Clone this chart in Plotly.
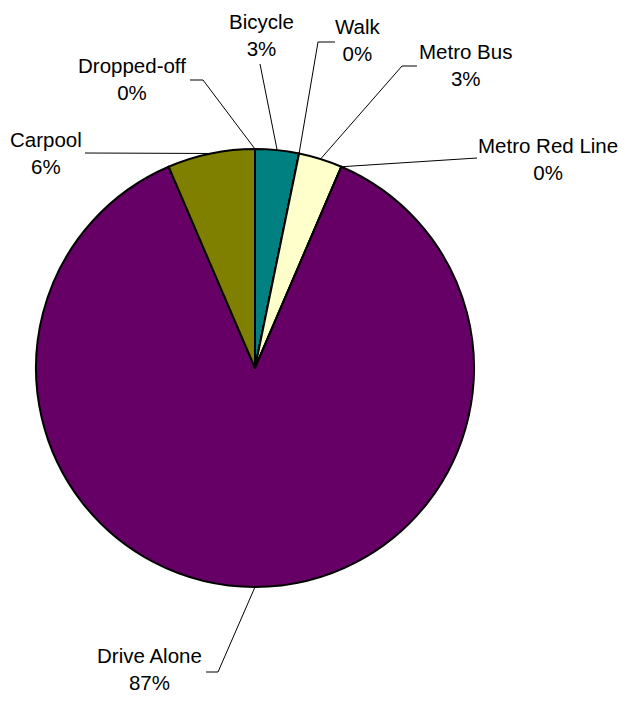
import math
import plotly.graph_objects as go

# commute mode counts
modes = ["Bicycle", "Walk", "Metro Bus", "Metro Red Line", "Drive Alone", "Carpool", "Dropped-off"]
counts = [1, 0, 1, 0, 27, 2, 0]
colors = ["#008080", "#FFFFCC", "#FFFFCC", "#660066", "#660066", "#808000", "#808000"]

# page body has an 8px margin, so the figure sits at (8, 8) in the window;
# keep the height inside the window so no scrollbar appears
OFF = 8
W, H = 626 - OFF, 704 - 2 * OFF
CX, CY, R = 255, 368, 219

# label layout in window pixels: text centre, elbow, tail end of leader
label_pos = {
    "Bicycle":        ((261, 35),  (260, 64),  (260, 64)),
    "Walk":           ((358, 40),  (318, 42),  (335, 42)),
    "Metro Bus":      ((465, 65),  (402, 66),  (417, 66)),
    "Metro Red Line": ((548, 159), (477, 158), (477, 158)),
    "Drive Alone":    ((149, 669), (218, 672), (206, 672)),
    "Carpool":        ((46, 153),  (85, 153),  (85, 153)),
    "Dropped-off":    ((132, 79),  (203, 80),  (190, 80)),
}


def px(x, y):
    return (x - OFF) / W, 1 - (y - OFF) / H


total = sum(counts)
dx0, dy1 = px(CX - R, CY - R)
dx1, dy0 = px(CX + R, CY + R)
fig = go.Figure(go.Pie(
    labels=modes,
    values=counts,
    sort=False,
    direction="clockwise",
    rotation=0,
    marker=dict(colors=colors, line=dict(color="black", width=2)),
    textinfo="none",
    hoverinfo="label+percent",
    showlegend=False,
    domain=dict(x=[dx0, dx1], y=[dy0, dy1]),
))

shapes = []
annotations = []
cum = 0
for name, v in zip(modes, counts):
    mid = (cum + v / 2) / total * 2 * math.pi
    cum += v
    ex, ey = CX + R * math.sin(mid), CY - R * math.cos(mid)
    (tx, ty), (bx, by), (lx, ly) = label_pos[name]
    x0, y0 = px(ex, ey)
    x1, y1 = px(bx, by)
    x2, y2 = px(lx, ly)
    shapes.append(dict(type="path", xref="paper", yref="paper",
                       path=f"M {x0},{y0} L {x1},{y1} L {x2},{y2}",
                       line=dict(color="black", width=1)))
    ax, ay = px(tx, ty)
    annotations.append(dict(
        x=ax, y=ay, xref="paper", yref="paper", showarrow=False,
        text=f"{name}<br>{round(v / total * 100)}%",
        xanchor="center", yanchor="middle", align="center",
        font=dict(family="Liberation Sans, Arial", size=20.5, color="black"),
    ))

fig.update_layout(
    width=W, height=H,
    margin=dict(l=0, r=0, t=0, b=0),
    paper_bgcolor="white",
    shapes=shapes,
    annotations=annotations,
)

fig.write_html("out.html")
